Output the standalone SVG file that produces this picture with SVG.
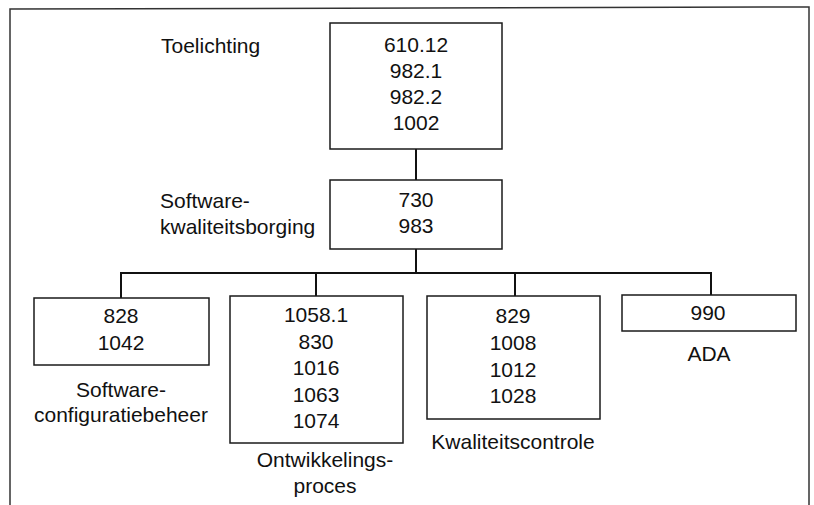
<svg xmlns="http://www.w3.org/2000/svg" width="814" height="505" viewBox="0 0 814 505">
  <style>
    .box { fill: #ffffff; stroke: #1a1a1a; stroke-width: 1.5; }
    .wire { fill: none; stroke: #111111; stroke-width: 2; }
    .frame { fill: none; stroke: #333333; stroke-width: 1.5; }
    text { font-family: "Liberation Sans", Arial, sans-serif; font-size: 21px; fill: #111111; }
    .c { text-anchor: middle; }
  </style>
  <rect width="814" height="505" fill="#ffffff"/>

  <!-- open frame: top, left and right edges -->
  <path class="frame" d="M10,505 V9 L809,7 V505"/>

  <!-- connectors -->
  <g id="connectors">
    <path class="wire" d="M416,149 V180"/>
    <path class="wire" d="M416,249 V273"/>
    <path class="wire" d="M121,298 V273 H711 V295"/>
    <path class="wire" d="M316,273 V296"/>
    <path class="wire" d="M515,273 V296"/>
  </g>

  <g id="toelichting">
    <rect class="box" x="330" y="23" width="172" height="126"/>
    <text class="c" x="416" y="52">610.12</text>
    <text class="c" x="416" y="78">982.1</text>
    <text class="c" x="416" y="104">982.2</text>
    <text class="c" x="416" y="130">1002</text>
    <text x="161" y="53">Toelichting</text>
  </g>

  <g id="kwaliteitsborging">
    <rect class="box" x="330" y="180" width="172" height="69"/>
    <text class="c" x="416" y="207">730</text>
    <text class="c" x="416" y="233">983</text>
    <text x="160" y="208">Software-</text>
    <text x="160" y="234">kwaliteitsborging</text>
  </g>

  <g id="configuratiebeheer">
    <rect class="box" x="34" y="298" width="175" height="67"/>
    <text class="c" x="121" y="323">828</text>
    <text class="c" x="121" y="350">1042</text>
    <text class="c" x="121" y="397">Software-</text>
    <text class="c" x="121" y="422">configuratiebeheer</text>
  </g>

  <g id="ontwikkelingsproces">
    <rect class="box" x="230" y="296" width="173" height="147"/>
    <text class="c" x="316" y="322">1058.1</text>
    <text class="c" x="316" y="349">830</text>
    <text class="c" x="316" y="375">1016</text>
    <text class="c" x="316" y="402">1063</text>
    <text class="c" x="316" y="428">1074</text>
    <text class="c" x="325" y="467">Ontwikkelings-</text>
    <text class="c" x="325" y="493">proces</text>
  </g>

  <g id="kwaliteitscontrole">
    <rect class="box" x="427" y="296" width="173" height="123"/>
    <text class="c" x="513" y="323">829</text>
    <text class="c" x="513" y="350">1008</text>
    <text class="c" x="513" y="377">1012</text>
    <text class="c" x="513" y="403">1028</text>
    <text class="c" x="513" y="449">Kwaliteitscontrole</text>
  </g>

  <g id="ada">
    <rect class="box" x="622" y="295" width="174" height="36"/>
    <text class="c" x="708" y="320">990</text>
    <text class="c" x="709" y="361">ADA</text>
  </g>
</svg>
